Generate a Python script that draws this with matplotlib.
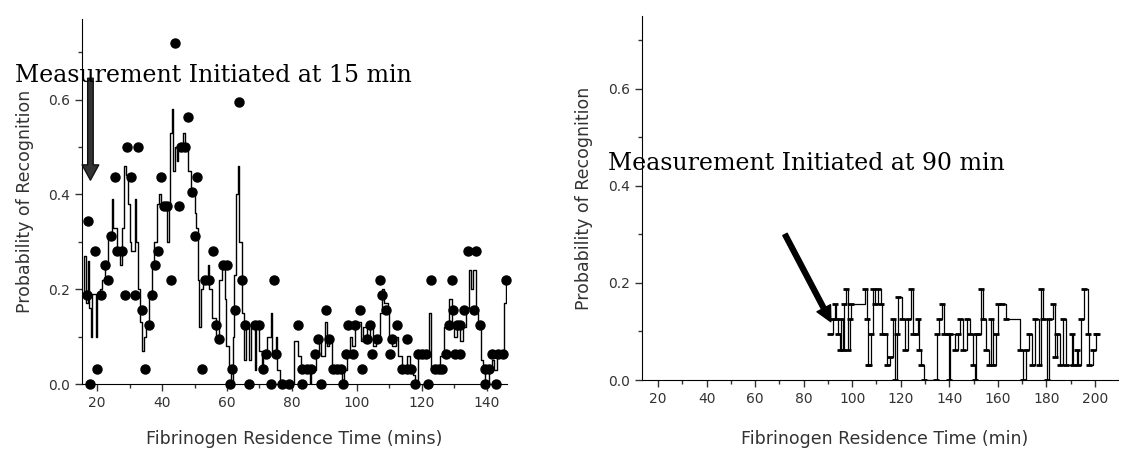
import matplotlib
matplotlib.use("Agg")
import matplotlib.pyplot as plt
from matplotlib.ticker import MultipleLocator, FormatStrFormatter

# left panel: dots (sampled) and step trace, measurement started at 15 min
dot_time = [16.8, 17.2, 17.8, 19.2, 20.0, 21.2, 22.3, 23.2, 24.3, 25.5, 26.2, 27.6, 28.6,
            29.1, 30.4, 31.5, 32.5, 33.7, 34.8, 35.9, 36.9, 37.8, 38.7, 39.7, 40.6, 41.6,
            42.8, 43.9, 45.1, 45.9, 46.9, 48.1, 49.1, 50.1, 50.9, 52.2, 53.2, 54.4, 55.6,
            56.6, 57.6, 58.7, 60.0, 61.0, 61.4, 62.4, 63.6, 64.7, 65.6, 66.9, 68.7, 70.0,
            71.2, 72.1, 73.6, 74.5, 75.0, 77.0, 79.0, 81.9, 83.2, 83.2, 84.5, 86.0, 87.0,
            88.0, 89.0, 90.4, 91.3, 92.8, 94.0, 95.2, 95.7, 96.6, 97.3, 98.8, 99.5, 101.0,
            101.7, 103.0, 104.0, 104.8, 106.3, 107.2, 107.7, 109.1, 110.1, 111.0, 112.3,
            114.0, 115.4, 115.6, 116.8, 117.8, 118.8, 120.0, 121.2, 122.0, 122.9, 124.0,
            125.2, 126.4, 127.4, 128.4, 129.3, 129.8, 130.3, 130.8, 131.7, 131.9, 133.2,
            134.4, 136.0, 136.7, 138.0, 139.4, 139.6, 140.9, 141.8, 142.8, 143.5, 145.2,
            146.0]
dot_prob = [0.1875, 0.344, 0.0, 0.281, 0.031, 0.1875, 0.25, 0.219, 0.3125, 0.4375, 0.281,
            0.281, 0.1875, 0.5, 0.4375, 0.1875, 0.5, 0.156, 0.031, 0.125, 0.1875, 0.25,
            0.281, 0.4375, 0.375, 0.375, 0.219, 0.719, 0.375, 0.5, 0.5, 0.5625, 0.406,
            0.3125, 0.4375, 0.031, 0.219, 0.219, 0.281, 0.125, 0.094, 0.25, 0.25, 0.0,
            0.031, 0.156, 0.594, 0.219, 0.125, 0.0, 0.125, 0.125, 0.031, 0.0625, 0.0,
            0.219, 0.0625, 0.0, 0.0, 0.125, 0.031, 0.0, 0.031, 0.031, 0.0625, 0.094, 0.0,
            0.156, 0.094, 0.031, 0.031, 0.031, 0.0, 0.0625, 0.125, 0.0625, 0.125, 0.156,
            0.031, 0.094, 0.125, 0.0625, 0.094, 0.219, 0.1875, 0.156, 0.0625, 0.094, 0.125,
            0.031, 0.094, 0.031, 0.031, 0.0, 0.0625, 0.0625, 0.0625, 0.0, 0.219, 0.031,
            0.031, 0.031, 0.0625, 0.125, 0.219, 0.156, 0.0625, 0.125, 0.0625, 0.125, 0.156,
            0.281, 0.156, 0.281, 0.125, 0.031, 0.0, 0.031, 0.0625, 0.0, 0.0625, 0.0625,
            0.219]

trace15_time = [15.5, 16.0, 16.5, 17.0, 17.5, 18.0, 18.5, 19.0, 19.5, 20.0, 21.0, 21.5,
                22.5, 23.3, 24.5, 25.0, 26.0, 27.0, 27.5, 28.3, 29.0, 29.5, 30.0, 30.5,
                31.5, 32.0, 32.5, 33.2, 33.7, 34.3, 35.0, 35.8, 36.8, 37.6, 38.5, 39.0,
                39.5, 40.5, 41.5, 42.0, 42.5, 43.0, 43.5, 44.0, 44.5, 45.0, 46.5, 47.0,
                48.0, 49.0, 50.0, 50.5, 51.0, 51.5, 52.0, 52.5, 54.0, 54.5, 55.5, 56.5,
                57.5, 58.5, 59.3, 59.8, 60.5, 61.2, 61.8, 62.3, 62.8, 63.3, 63.8, 64.5,
                65.2, 65.8, 66.8, 67.5, 68.5, 69.0, 70.0, 70.7, 71.2, 72.2, 73.5, 74.0,
                75.0, 75.5, 76.3, 80.8, 81.8, 82.8, 85.5, 86.0, 87.5, 88.5, 89.0, 90.3,
                90.8, 91.5, 92.3, 95.5, 96.0, 97.0, 98.0, 98.5, 99.3, 100.3, 101.3, 102.0,
                103.0, 104.0, 105.0, 106.0, 107.0, 107.8, 108.5, 109.5, 110.0, 111.0,
                112.0, 112.8, 113.8, 115.5, 116.3, 117.3, 118.0, 118.8, 122.3, 122.8,
                125.8, 127.0, 128.3, 129.2, 130.0, 131.0, 131.8, 132.8, 133.8, 134.5,
                135.2, 135.8, 136.8, 137.5, 138.3, 139.0, 139.6, 140.8, 141.8, 142.3,
                143.3, 144.8, 145.5, 146.0]
trace15_prob = [0.19, 0.27, 0.17, 0.26, 0.16, 0.10, 0.19, 0.19, 0.10, 0.19, 0.20, 0.22,
                0.25, 0.31, 0.39, 0.33, 0.28, 0.25, 0.33, 0.46, 0.44, 0.38, 0.30, 0.28,
                0.39, 0.30, 0.20, 0.13, 0.07, 0.10, 0.13, 0.19, 0.25, 0.30, 0.38, 0.40,
                0.37, 0.37, 0.30, 0.38, 0.53, 0.58, 0.45, 0.50, 0.47, 0.50, 0.53, 0.50,
                0.45, 0.40, 0.36, 0.33, 0.22, 0.12, 0.20, 0.22, 0.25, 0.20, 0.14, 0.10,
                0.22, 0.25, 0.18, 0.08, 0.03, 0.0, 0.10, 0.23, 0.40, 0.46, 0.30, 0.15,
                0.05, 0.12, 0.05, 0.12, 0.03, 0.12, 0.07, 0.03, 0.07, 0.10, 0.15, 0.06,
                0.10, 0.03, 0.0, 0.09, 0.06, 0.03, 0.0, 0.03, 0.06, 0.10, 0.06, 0.13,
                0.08, 0.10, 0.03, 0.0, 0.03, 0.06, 0.10, 0.08, 0.12, 0.13, 0.09, 0.12,
                0.09, 0.13, 0.08, 0.09, 0.15, 0.20, 0.17, 0.15, 0.10, 0.08, 0.10, 0.06,
                0.03, 0.06, 0.03, 0.02, 0.0, 0.06, 0.15, 0.03, 0.06, 0.12, 0.18, 0.12,
                0.10, 0.13, 0.09, 0.12, 0.16, 0.24, 0.20, 0.24, 0.15, 0.12, 0.05, 0.03,
                0.0, 0.03, 0.05, 0.03, 0.06, 0.07, 0.17, 0.22]

# right panel: step trace, measurement started at 90 min
trace90_time = [91.0, 92.0, 92.8, 93.5, 94.0, 94.9, 95.5, 96.2, 96.8, 97.6, 98.3, 99.0,
                99.6, 105.3, 106.0, 106.4, 107.0, 107.7, 108.4, 109.5, 110.5, 111.7,
                112.3, 113.5, 114.3, 115.6, 116.7, 117.7, 118.3, 119.0, 120.4, 121.7,
                123.0, 124.1, 125.0, 126.4, 127.0, 127.7, 128.4, 129.7, 134.4, 135.0,
                135.8, 136.8, 137.7, 139.3, 139.7, 140.3, 142.4, 143.5, 144.4, 145.8,
                147.1, 148.5, 149.8, 150.5, 151.2, 152.0, 153.2, 153.8, 155.2, 156.5,
                157.2, 157.8, 159.2, 159.9, 161.9, 163.2, 169.2, 170.5, 171.4, 172.8,
                174.0, 175.5, 176.8, 177.9, 178.8, 180.2, 181.2, 182.6, 183.5, 184.5,
                185.5, 186.9, 188.2, 190.5, 191.0, 192.5, 193.0, 194.2, 195.6, 197.0,
                197.6, 199.0, 200.3, 201.0]
trace90_prob = [0.094, 0.125, 0.156, 0.125, 0.094, 0.0625, 0.125, 0.0625, 0.156, 0.1875,
                0.0625, 0.125, 0.156, 0.1875, 0.125, 0.031, 0.031, 0.094, 0.1875, 0.156,
                0.1875, 0.156, 0.094, 0.094, 0.031, 0.047, 0.125, 0.0, 0.094, 0.172,
                0.125, 0.0625, 0.125, 0.1875, 0.094, 0.094, 0.125, 0.0625, 0.031, 0.0,
                0.0, 0.094, 0.125, 0.156, 0.094, 0.094, 0.0, 0.094, 0.0625, 0.094, 0.125,
                0.0625, 0.125, 0.094, 0.031, 0.0, 0.094, 0.094, 0.1875, 0.125, 0.0625,
                0.031, 0.125, 0.031, 0.094, 0.156, 0.156, 0.125, 0.0625, 0.0, 0.0625,
                0.094, 0.031, 0.125, 0.031, 0.1875, 0.125, 0.0, 0.125, 0.156, 0.047,
                0.094, 0.031, 0.125, 0.031, 0.094, 0.031, 0.0625, 0.031, 0.125, 0.1875,
                0.094, 0.031, 0.0625, 0.094, 0.094]

sans = "DejaVu Sans"
note_font = dict(family="DejaVu Serif", size=17)

fig = plt.figure(figsize=(11.21, 4.53), dpi=100)
ax1 = fig.add_axes([82 / 1121, 69 / 453, 425 / 1121, 365 / 453])
ax2 = fig.add_axes([642 / 1121, 73 / 453, 476 / 1121, 364 / 453])


def style_axis(ax, xmin, xmax, ymax, ypad):
    ax.set_xlim(xmin, xmax)
    ax.set_ylim(0, ymax)
    for side in ["top", "right"]:
        ax.spines[side].set_visible(False)
    ax.xaxis.set_major_locator(MultipleLocator(20))
    ax.xaxis.set_minor_locator(MultipleLocator(10))
    ax.yaxis.set_major_locator(MultipleLocator(0.2))
    ax.yaxis.set_minor_locator(MultipleLocator(0.1))
    ax.yaxis.set_major_formatter(FormatStrFormatter("%.1f"))
    ax.tick_params(which="major", length=5, width=1, colors="#333333", labelsize=10)
    ax.tick_params(which="minor", length=3, width=1, colors="#333333")
    for lab in ax.get_xticklabels() + ax.get_yticklabels():
        lab.set_family(sans)
    ax.set_ylabel("Probability of Recognition", family=sans, size=12.5,
                  color="#333333", labelpad=ypad)


# left panel
style_axis(ax1, 15.3, 146.3, 0.77, 10)
ax1.step(trace15_time, trace15_prob, where="post", color="black", linewidth=1.0)
ax1.plot(dot_time, dot_prob, "o", color="black", markersize=6.5, clip_on=False)
ax1.set_xlabel("Fibrinogen Residence Time (mins)", family=sans, size=12.5,
               color="#333333")
ax1.xaxis.set_label_coords(0.5, -0.125)
ax1.annotate("", xy=(17.9, 0.43), xytext=(17.9, 0.645),
             arrowprops=dict(width=4, headwidth=12, headlength=11,
                             facecolor="#333333", edgecolor="#111111"))
fig.text(15 / 1121, 1 - 82 / 453, "Measurement Initiated at 15 min", va="baseline",
         **note_font)

# right panel
style_axis(ax2, 13.4, 209.5, 0.75, 11)
ax2.step(trace90_time, trace90_prob, where="post", color="black", linewidth=0.9)
ax2.plot(trace90_time, trace90_prob, "_", color="black", markersize=4, mew=2)
ax2.set_xlabel("Fibrinogen Residence Time (min)", family=sans, size=12.5,
               color="#333333")
ax2.xaxis.set_label_coords(0.51, -0.137)
ax2.annotate("", xy=(91.2, 0.12), xytext=(72.3, 0.30),
             arrowprops=dict(width=3.5, headwidth=11, headlength=11,
                             facecolor="black", edgecolor="black"))
fig.text(608 / 1121, 1 - 170 / 453, "Measurement Initiated at 90 min", va="baseline",
         **note_font)

fig.savefig("out.png", dpi=100)
